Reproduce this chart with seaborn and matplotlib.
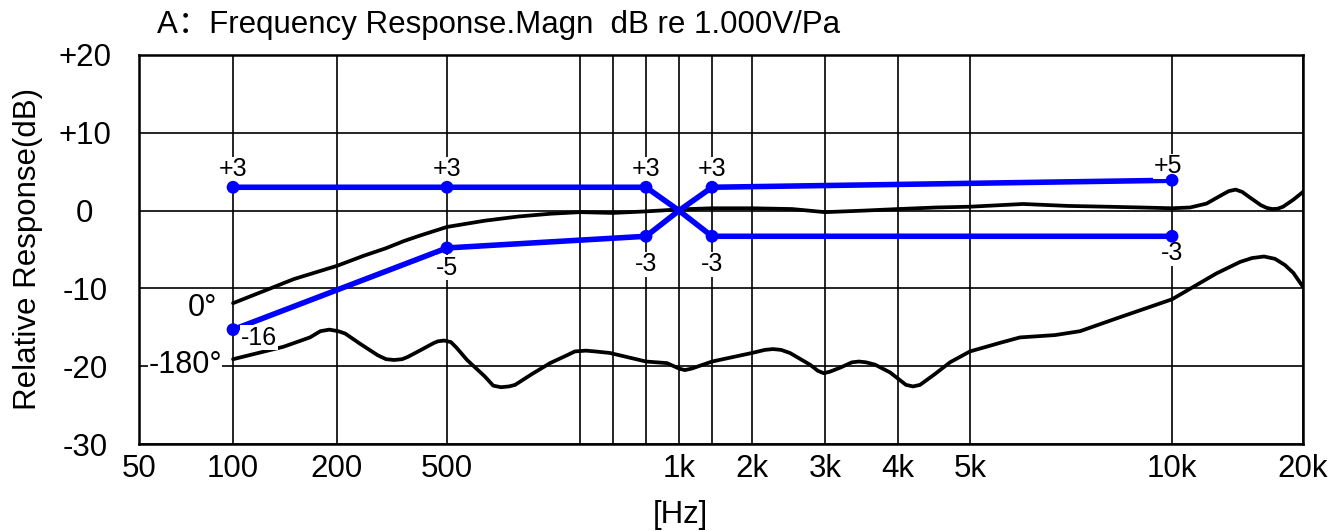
import numpy as np
import matplotlib
matplotlib.use('Agg')
import matplotlib.pyplot as plt
import seaborn as sns

# vertical grid lines of the chart (frequency) and where they sit along the axis
grid_hz = [50, 100, 200, 500, 700, 800, 900, 1000, 1100, 2000, 3000, 4000, 5000, 10000, 20000]
grid_labels = ['50', '100', '200', '500', '', '', '', '1k', '', '2k', '3k', '4k', '5k', '10k', '20k']
grid_pos = [0, 0.0808, 0.1701, 0.2646, 0.3789, 0.4072, 0.4356, 0.4639, 0.4923,
            0.5266, 0.5893, 0.6521, 0.7139, 0.8875, 1.0]

db_ticks = [-30, -20, -10, 0, 10, 20]
db_labels = ['-30', '-20', '-10', '0', '+10', '+20']

# 0 degree response
curve_0_hz = [100, 125, 150, 200, 250, 300, 350, 400, 500, 550, 600, 650, 700, 800, 900,
              1000, 1100, 2000, 2500, 3000, 3500, 4000, 4500, 5000, 6000, 7000, 8000, 9000,
              10000, 11000, 12000, 13000, 13500, 14000, 14500, 15000, 16000, 16500, 17000, 17500,
              18000, 19000, 20000]
curve_0_db = [-11.9, -10.2, -8.8, -7.1, -5.8, -4.85, -3.9, -3.2, -2.1, -1.3, -0.75, -0.4, -0.2, -0.3, -0.1,
              0.15, 0.3, 0.3, 0.2, -0.2, 0.0, 0.2, 0.4, 0.5, 0.85, 0.6, 0.5, 0.4,
              0.3, 0.4, 0.9, 2.0, 2.5, 2.7, 2.4, 1.8, 0.7, 0.35, 0.2, 0.25,
              0.5, 1.4, 2.4]

# 180 degree response
curve_180_hz = [100, 140, 167, 179, 190, 202, 214, 242, 281, 301, 322, 344, 361, 403, 449,
                464, 488, 505, 512, 526, 550, 562, 573, 585, 594, 620, 649, 677, 691, 717,
                744, 790, 900, 962, 1000, 1017, 1038, 1100, 2000, 2150, 2247, 2350, 2470, 2760,
                2886, 2980, 3060, 3183, 3337, 3430, 3526, 3653, 3876, 4100, 4190, 4282, 4486,
                4700, 5000, 5542, 5936, 6693, 7293, 8366, 10000, 12623, 14330, 15270, 16273,
                17245, 18180, 19000, 20000]
curve_180_db = [-19.1, -17.5, -16.3, -15.5, -15.3, -15.5, -15.8, -17.1, -18.6, -19.1, -19.2, -19.1, -18.8, -17.9, -17.0,
                -16.8, -16.7, -16.9, -17.6, -19.2, -21.3, -22.5, -22.7, -22.6, -22.4, -21.0, -19.6, -18.6, -18.1, -18.0,
                -18.1, -18.3, -19.4, -19.6, -20.3, -20.5, -20.3, -19.4, -18.3, -17.9, -17.8, -17.9, -18.3, -19.8,
                -20.6, -20.9, -20.7, -20.2, -19.5, -19.4, -19.5, -19.8, -20.8, -22.4, -22.6, -22.4, -21.0,
                -19.5, -18.1, -17.0, -16.3, -16.0, -15.5, -13.7, -11.4, -8.1, -6.6, -6.1, -5.9,
                -6.2, -7.0, -8.0, -9.8]

# tolerance limits (blue X)
limit_hz = [100, 500, 900, 1000, 1100, 10000]
limit_a_db = [3, 3, 3, 0, -3.3, -3.3]
limit_a_text = ['+3', '+3', '+3', '', '-3', '-3']
limit_b_db = [-15.3, -4.8, -3.3, 0, 3, 3.9]
limit_b_text = ['-16', '-5', '-3', '', '+3', '+5']

log_hz = np.log10(grid_hz)


def fwd(f):
    f = np.maximum(np.asarray(f, dtype=float), 1e-9)
    return np.interp(np.log10(f), log_hz, grid_pos)


def inv(p):
    return 10 ** np.interp(np.asarray(p, dtype=float), grid_pos, log_hz)


sns.set_theme(style='white')
plt.rcParams['font.family'] = ['Liberation Sans', 'Noto Sans CJK SC']

fig = plt.figure(figsize=(13.33, 5.31), dpi=100)
ax = fig.add_axes([139 / 1333, 1 - 444 / 531, 1164 / 1333, 389 / 531])

line_kw = dict(errorbar=None, solid_joinstyle='round', solid_capstyle='round')
sns.lineplot(x=curve_0_hz, y=curve_0_db, ax=ax, color='black', linewidth=2.7, zorder=3, **line_kw)
sns.lineplot(x=curve_180_hz, y=curve_180_db, ax=ax, color='black', linewidth=2.7, zorder=3, **line_kw)

blue = '#0000ff'
sns.lineplot(x=limit_hz, y=limit_a_db, ax=ax, color=blue, linewidth=4, zorder=4, **line_kw)
sns.lineplot(x=limit_hz, y=limit_b_db, ax=ax, color=blue, linewidth=4, zorder=4, **line_kw)
dots_hz = [h for h, t in zip(limit_hz, limit_a_text) if t]
sns.scatterplot(x=dots_hz, y=[d for d, t in zip(limit_a_db, limit_a_text) if t], ax=ax,
                color=blue, s=85, edgecolor='none', zorder=6)
sns.scatterplot(x=dots_hz, y=[d for d, t in zip(limit_b_db, limit_b_text) if t], ax=ax,
                color=blue, s=85, edgecolor='none', zorder=6)

ax.set_xscale('function', functions=(fwd, inv))
ax.set_xlim(50, 20000)
ax.set_ylim(-30, 20)

# value labels next to the blue points
a_off = [(0, 18), (0, 18), (0, 18), None, (0, -28), (0, -17)]
b_off = [(26, -8), (0, -20), (0, -28), None, (0, 18), (-4, 14)]
box = dict(fc='white', ec='none', pad=0.3)
for hz, db, txt, off in zip(limit_hz, limit_a_db, limit_a_text, a_off):
    if txt:
        ax.annotate(txt, (hz, db), xytext=off, textcoords='offset pixels', ha='center', va='center',
                    fontsize=18, color='black', bbox=box, zorder=5)
for hz, db, txt, off in zip(limit_hz, limit_b_db, limit_b_text, b_off):
    if txt:
        ax.annotate(txt, (hz, db), xytext=off, textcoords='offset pixels', ha='center', va='center',
                    fontsize=18, color='black', bbox=box, zorder=5)

ax.annotate('0°', (curve_0_hz[0], curve_0_db[0]), xytext=(-16, -5), textcoords='offset pixels',
            ha='right', va='center', fontsize=22, color='black', zorder=6)
ax.annotate('-180°', (curve_180_hz[0], curve_180_db[0]), xytext=(-11, -6), textcoords='offset pixels',
            ha='right', va='center', fontsize=22, color='black', zorder=6,
            bbox=dict(fc='white', ec='none', pad=0.2))

ax.set_xticks(grid_hz)
ax.set_xticklabels(grid_labels)
ax.set_yticks(db_ticks)
ax.set_yticklabels(db_labels)
ax.tick_params(axis='both', length=0, labelsize=22.5, colors='black')
ax.tick_params(axis='x', pad=7)
ax.tick_params(axis='y', pad=39)
for lab in ax.get_yticklabels():
    lab.set_horizontalalignment('center')
ax.minorticks_off()

ax.grid(True, color='black', linewidth=1.2)
ax.set_axisbelow(True)
for sp in ax.spines.values():
    sp.set_color('black')
    sp.set_linewidth(1.8)

fig.text(157 / 1333, 1 - 25 / 531, 'A：Frequency Response.Magn  dB re 1.000V/Pa',
         ha='left', va='center', fontsize=22.5, color='black')
fig.text(28 / 1333, 1 - 249 / 531, 'Relative Response(dB)', rotation=90,
         ha='center', va='center', fontsize=22.5, color='black')
fig.text(680 / 1333, 1 - 515 / 531, '[Hz]', ha='center', va='center', fontsize=22.5, color='black')

fig.savefig('out.png', dpi=100, facecolor='white')
